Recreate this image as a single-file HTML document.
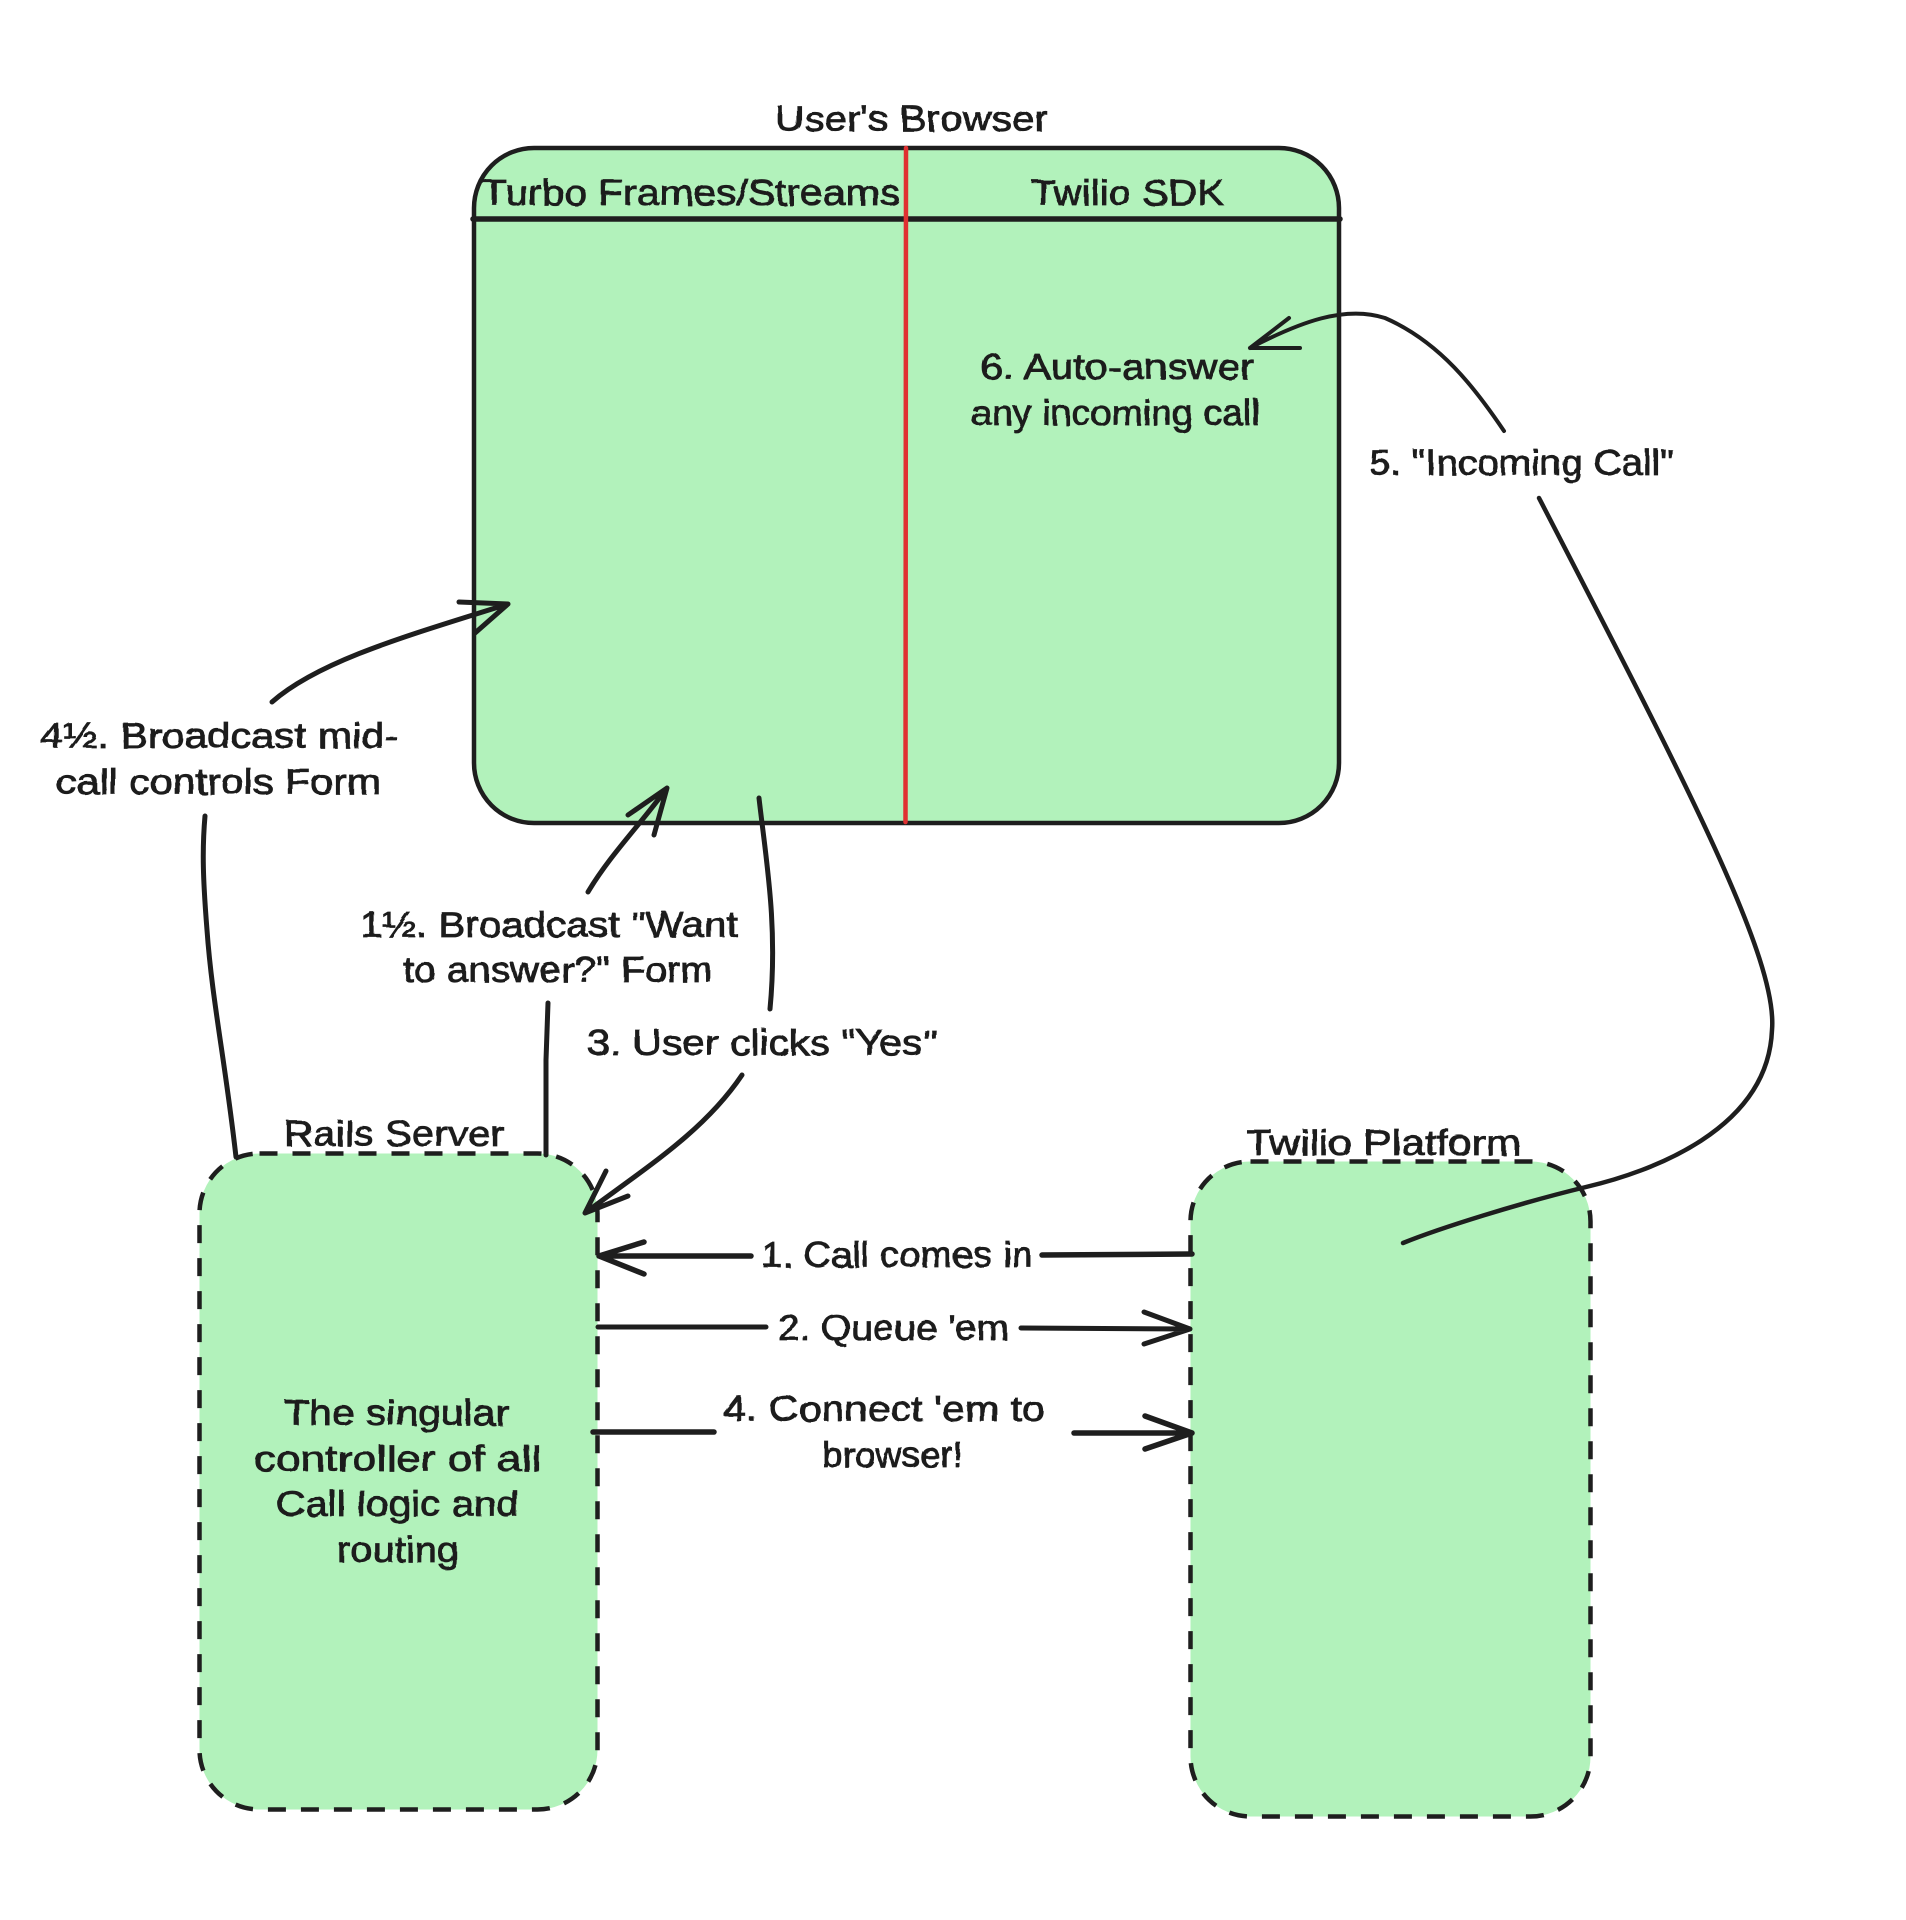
<!DOCTYPE html>
<html lang="en">
<head>
<meta charset="utf-8">
<title>Call flow diagram</title>
<style>
html,body{margin:0;padding:0;background:#fff;width:1906px;height:1920px;overflow:hidden}
svg{display:block}
text{font-family:"Liberation Sans","DejaVu Sans",sans-serif;font-size:36px;fill:#1e1e1e;stroke:#1e1e1e;stroke-width:.8px}
.l{fill:none;stroke:#1e1e1e;stroke-linecap:round;stroke-linejoin:round}
</style>
</head>
<body>
<svg xmlns="http://www.w3.org/2000/svg" width="1906" height="1920" viewBox="0 0 1906 1920">
<defs>
<filter id="w" x="-5%" y="-30%" width="110%" height="160%">
<feTurbulence type="fractalNoise" baseFrequency="0.05" numOctaves="2" seed="4" result="n"/>
<feDisplacementMap in="SourceGraphic" in2="n" scale="3.5"/>
</filter>
</defs>

<!-- Browser box -->
<rect x="474" y="148" width="865" height="675" rx="60" ry="60" fill="#b2f2bb" stroke="#1e1e1e" stroke-width="4.500"/>
<path class="l" stroke-width="5.500" d="M473 219 L1340 219"/>
<path class="l" stroke-width="4.500" style="stroke:#e03131" d="M906 148 L905.500 822"/>

<!-- Rails box -->
<rect x="199.500" y="1153.500" width="398" height="656" rx="60" ry="60" fill="#b2f2bb" stroke="#1e1e1e" stroke-width="4.500" stroke-dasharray="18 15"/>
<!-- Twilio box -->
<rect x="1190.500" y="1161.500" width="400" height="655" rx="60" ry="60" fill="#b2f2bb" stroke="#1e1e1e" stroke-width="4.500" stroke-dasharray="18 15"/>

<!-- 1. Call comes in -->
<path class="l" stroke-width="5.500" d="M599 1256 L751 1256 M1042 1255 L1192 1254 M599 1256 L644 1242 M599 1256 L644 1274"/>
<!-- 2. Queue -->
<path class="l" stroke-width="5" d="M598 1327 L766 1327 M1021 1328 L1190 1329 M1190 1329 L1144 1312 M1190 1329 L1144 1344"/>
<!-- 4. Connect -->
<path class="l" stroke-width="5.500" d="M593 1432 L714 1432 M1074 1433 L1192 1433 M1192 1433 L1145 1416 M1192 1433 L1145 1449"/>

<!-- 4½ arrow -->
<path class="l" stroke-width="5" d="M236 1157 C225 1060 212 1000 207 930 C203 880 202 850 205 816"/>
<path class="l" stroke-width="5" d="M272 702 C320 660 410 635 508 604 M508 604 L459 602 M508 604 L475 633"/>
<!-- 1½ arrow -->
<path class="l" stroke-width="5" d="M546 1155 L546 1060 L548 1003"/>
<path class="l" stroke-width="5" d="M588 892 C610 855 640 825 667 788 M667 788 L628 815 M667 788 L654 835"/>
<!-- 3 arrow -->
<path class="l" stroke-width="5" d="M759 798 C766 860 778 925 770 1009"/>
<path class="l" stroke-width="5" d="M742 1075 C705 1130 650 1165 585 1213 M585 1213 L606 1171 M585 1213 L628 1196"/>
<!-- 5 arrow -->
<path class="l" stroke-width="4.500" d="M1403 1243 C1440 1228 1520 1203 1586 1187 C1650 1172 1768 1130 1772 1030 C1778 960 1690 790 1539 498"/>
<path class="l" stroke-width="4" d="M1504 431 C1475 388 1440 342 1385 318 C1345 305 1300 322 1250 348 M1250 348 L1289 318 M1250 348 L1300 348"/>

<!-- Labels -->
<g filter="url(#w)">
<text x="775" y="131" textLength="273" lengthAdjust="spacingAndGlyphs">User's Browser</text>
<text x="482" y="205" textLength="418" lengthAdjust="spacingAndGlyphs">Turbo Frames/Streams</text>
<text x="1031" y="205" textLength="193" lengthAdjust="spacingAndGlyphs">Twilio SDK</text>
<text x="980" y="379" textLength="274" lengthAdjust="spacingAndGlyphs">6. Auto-answer</text>
<text x="971" y="425" textLength="289" lengthAdjust="spacingAndGlyphs">any incoming call</text>
<text x="40" y="748" textLength="358" lengthAdjust="spacingAndGlyphs">4½. Broadcast mid-</text>
<text x="56" y="794" textLength="325" lengthAdjust="spacingAndGlyphs">call controls Form</text>
<text x="360" y="937" textLength="378" lengthAdjust="spacingAndGlyphs">1½. Broadcast "Want</text>
<text x="403" y="982" textLength="310" lengthAdjust="spacingAndGlyphs">to answer?" Form</text>
<text x="587" y="1055" textLength="350" lengthAdjust="spacingAndGlyphs">3. User clicks "Yes"</text>
<text x="284" y="1146" textLength="220" lengthAdjust="spacingAndGlyphs">Rails Server</text>
<text x="1369" y="475" textLength="305" lengthAdjust="spacingAndGlyphs">5. "Incoming Call"</text>
<text x="1246" y="1155" textLength="275" lengthAdjust="spacingAndGlyphs">Twilio Platform</text>
<text x="761" y="1267" textLength="272" lengthAdjust="spacingAndGlyphs">1. Call comes in</text>
<text x="778" y="1340" textLength="231" lengthAdjust="spacingAndGlyphs">2. Queue 'em</text>
<text x="723" y="1421" textLength="322" lengthAdjust="spacingAndGlyphs">4. Connect 'em to</text>
<text x="822" y="1467" textLength="141" lengthAdjust="spacingAndGlyphs">browser!</text>
<text x="284" y="1425" textLength="225" lengthAdjust="spacingAndGlyphs">The singular</text>
<text x="254" y="1471" textLength="287" lengthAdjust="spacingAndGlyphs">controller of all</text>
<text x="276" y="1516" textLength="243" lengthAdjust="spacingAndGlyphs">Call logic and</text>
<text x="337" y="1562" textLength="122" lengthAdjust="spacingAndGlyphs">routing</text>
</g>
</svg>
</body>
</html>
